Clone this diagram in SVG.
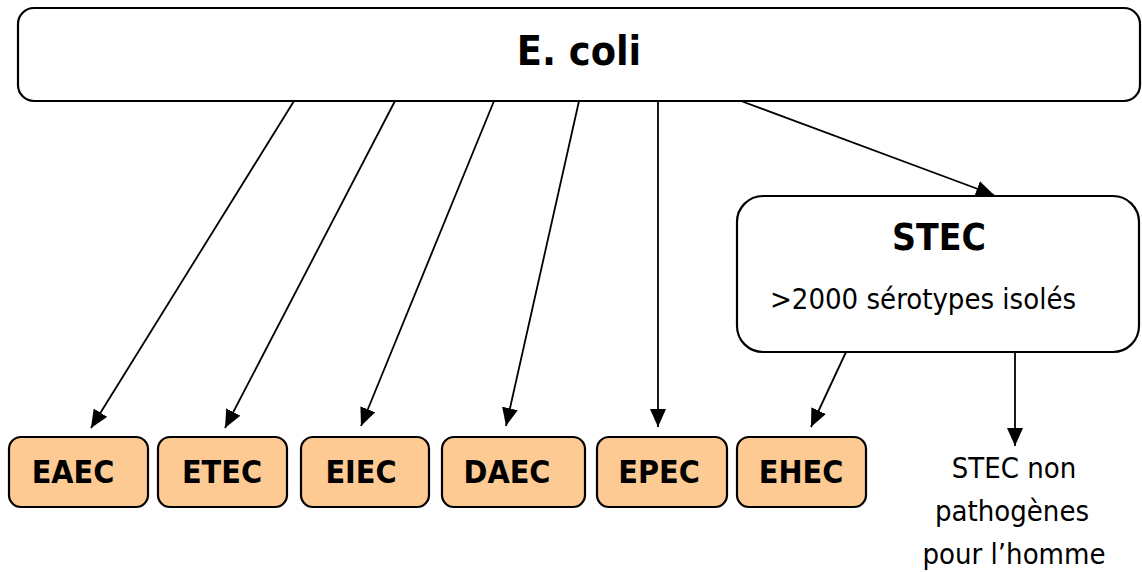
<svg xmlns="http://www.w3.org/2000/svg" width="1142" height="572" viewBox="0 0 1142 572">
<style>
.box{fill:#fff;stroke:#000;stroke-width:2.2}
.leaf{fill:#fdca93;stroke:#000;stroke-width:2.2}
.b{font-family:"DejaVu Sans Condensed","DejaVu Sans",Verdana,sans-serif;font-stretch:condensed;font-weight:bold;text-anchor:middle;fill:#000}
.r{font-family:"DejaVu Sans Condensed","DejaVu Sans",Verdana,sans-serif;font-stretch:condensed;text-anchor:middle;fill:#000}
.c{stroke:#000;stroke-width:1.8;fill:none;marker-end:url(#ah)}
</style>
<defs>
<marker id="ah" markerUnits="userSpaceOnUse" markerWidth="20" markerHeight="16" refX="18" refY="8" orient="auto">
<path d="M0,0 L18,8 L0,16 Z" fill="#000"/>
</marker>
</defs>
<rect width="1142" height="572" fill="#fff"/>
<g id="ecoli">
<rect class="box" x="18" y="8" width="1122" height="93" rx="16"/>
<text class="b" x="579" y="65" font-size="41">E. coli</text>
</g>
<g id="stec">
<rect class="box" x="737" y="196" width="402" height="156" rx="26"/>
<text class="b" x="939" y="250" font-size="37">STEC</text>
<text class="r" x="923" y="309" font-size="29">&gt;2000 sérotypes isolés</text>
</g>
<g id="eaec"><rect class="leaf" x="9" y="437" width="139" height="70" rx="12"/><text class="b" x="73" y="483" font-size="32">EAEC</text></g>
<g id="etec"><rect class="leaf" x="158" y="437" width="129" height="70" rx="12"/><text class="b" x="222" y="483" font-size="32">ETEC</text></g>
<g id="eiec"><rect class="leaf" x="301" y="437" width="128" height="70" rx="12"/><text class="b" x="361" y="483" font-size="32">EIEC</text></g>
<g id="daec"><rect class="leaf" x="442" y="437" width="143" height="70" rx="12"/><text class="b" x="507" y="483" font-size="32">DAEC</text></g>
<g id="epec"><rect class="leaf" x="597" y="437" width="130" height="70" rx="12"/><text class="b" x="659" y="483" font-size="32">EPEC</text></g>
<g id="ehec"><rect class="leaf" x="737" y="437" width="129" height="70" rx="12"/><text class="b" x="801" y="483" font-size="32">EHEC</text></g>
<g id="nonpath">
<text class="r" x="1014" y="478" font-size="29">STEC non</text>
<text class="r" x="1012" y="521" font-size="29">pathogènes</text>
<text class="r" x="1014" y="564" font-size="29">pour l’homme</text>
</g>
<g id="connectors">
<line class="c" x1="294" y1="101" x2="91" y2="428"/>
<line class="c" x1="395" y1="101" x2="225" y2="428"/>
<line class="c" x1="494" y1="101" x2="361" y2="426"/>
<line class="c" x1="579" y1="101" x2="506" y2="426"/>
<line class="c" x1="658" y1="101" x2="658" y2="427"/>
<line class="c" x1="741" y1="101" x2="994" y2="195"/>
<line class="c" x1="846" y1="352" x2="811" y2="427"/>
<line class="c" x1="1015" y1="352" x2="1015" y2="446"/>
</g>
</svg>
